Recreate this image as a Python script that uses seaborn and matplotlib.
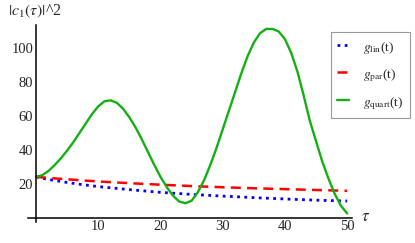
import numpy as np
import pandas as pd
import matplotlib
matplotlib.use("Agg")
import matplotlib.pyplot as plt
from matplotlib.ticker import MultipleLocator
import seaborn as sns

# ── data ────────────────────────────────────────────────────────────────────
t_quart = list(range(0, 51))
g_quart = [24, 25, 27.5, 31, 35, 39.5, 44.5, 50, 55.5, 61,
           65.5, 68.5, 69, 67.5, 64, 59, 53, 46, 38.5, 31,
           24, 18, 13, 9.5, 8.5, 10, 15, 22, 31, 41,
           52, 63, 74, 85, 95, 103, 108.5, 111, 111, 109.5,
           105, 97, 86, 72, 57, 45, 33, 23, 14, 7, 2.5]

t_slow = [0, 1, 2, 3, 5, 7.5, 10, 15, 20, 25, 30, 35, 40, 45, 50]
g_lin = [24, 23.2, 22.5, 21.9, 20.7, 19.4, 18.3, 16.5, 14.9, 13.7,
         12.7, 11.8, 11.0, 10.3, 9.8]
g_par = [24, 23.7, 23.4, 23.1, 22.6, 21.9, 21.3, 20.3, 19.4, 18.6,
         17.9, 17.3, 16.8, 16.3, 15.8]

sns.set_style("white")
plt.rcParams['font.family'] = ['Liberation Serif', 'DejaVu Serif']
plt.rcParams['mathtext.fontset'] = 'stix'

fig = plt.figure(figsize=(4.15, 2.43), dpi=100)
ax = fig.add_axes([0.0675, 0.0877, 0.781, 0.81])

sns.lineplot(x=t_slow, y=g_lin, ax=ax, color='#0000ff', lw=2.0,
             linestyle=(0, (1, 1.6)), label=r'$g_{\rm lin}$(t)')
sns.lineplot(x=t_slow, y=g_par, ax=ax, color='#ff0000', lw=1.8,
             linestyle=(0, (4, 2.5)), label=r'$g_{\rm par}$(t)')
sns.lineplot(x=t_quart, y=g_quart, ax=ax, color='#12b012', lw=1.7,
             label=r'$g_{\rm quart}$(t)')

ax.set_xlim(-1.3, 50.8)
ax.set_ylim(-2.35, 113.4)

# Mathematica style axes through the origin
ax.spines['left'].set_position(('data', 0))
ax.spines['bottom'].set_position(('data', 0))
ax.spines['top'].set_visible(False)
ax.spines['right'].set_visible(False)
for s in ('left', 'bottom'):
    ax.spines[s].set_linewidth(1.1)
    ax.spines[s].set_color('black')

ax.xaxis.set_minor_locator(MultipleLocator(2))
ax.yaxis.set_minor_locator(MultipleLocator(5))
ax.set_xticks([10, 20, 30, 40, 50])
ax.set_yticks([20, 40, 60, 80, 100])
ax.tick_params(which='major', direction='in', length=4, width=1.0, labelsize=10.5, pad=2)
ax.tick_params(which='minor', direction='in', length=2.2, width=0.8)

ax.set_xlabel('')
ax.set_ylabel('')
fig.text(8 / 415, 1 - 11 / 243, r'$|c_1(\tau)|$^2', fontsize=11.5, va='center', ha='left')
fig.text(361 / 415, 1 - 217 / 243, r'$\tau$', fontsize=12, va='center', ha='left')

leg = ax.legend(loc='upper left', bbox_to_anchor=(330.7 / 415, 1 - 31.7 / 243),
                bbox_transform=fig.transFigure, fontsize=9.5, frameon=True,
                fancybox=False, edgecolor='#999999', framealpha=1,
                handlelength=0.9, handleheight=1.6, handletextpad=1.05,
                labelspacing=0.7, borderpad=0.5, borderaxespad=0)
leg.get_frame().set_linewidth(0.8)

fig.savefig('out.png', dpi=100, facecolor='white')
